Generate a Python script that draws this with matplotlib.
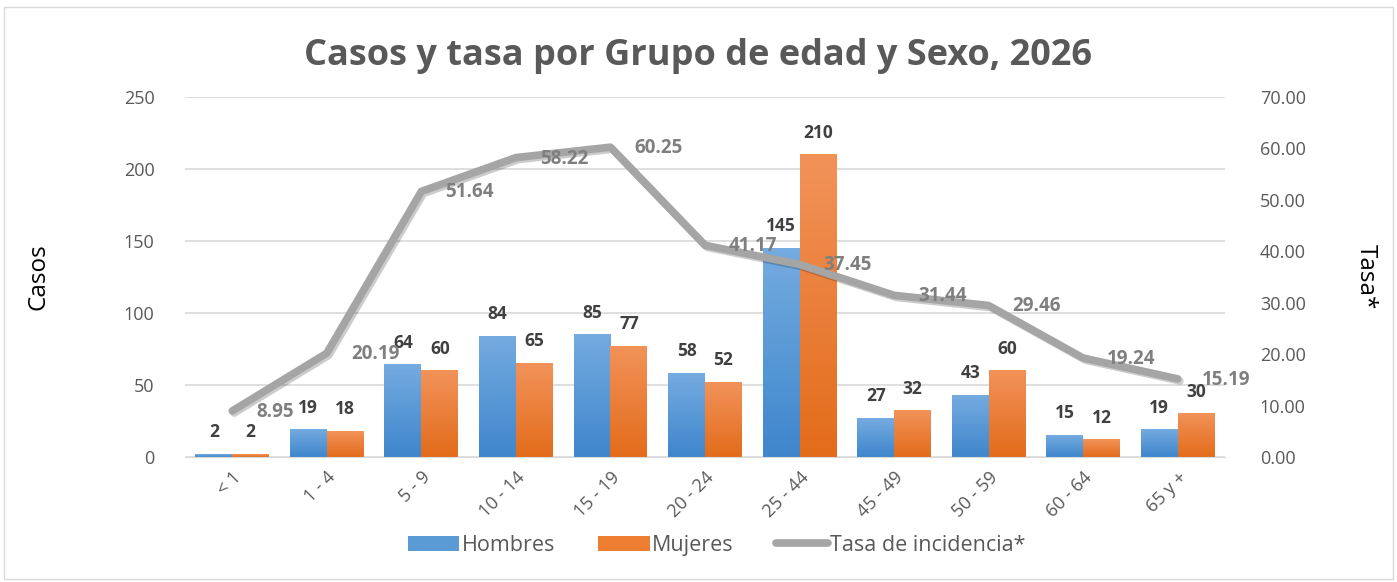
import numpy as np
import matplotlib
matplotlib.use("Agg")
import matplotlib.pyplot as plt
import matplotlib.patheffects as pe
from matplotlib.patches import Rectangle
from matplotlib.lines import Line2D

plt.rcParams['font.family'] = ['Open Sans', 'DejaVu Sans']

grupos = ['< 1', '1 - 4', '5 - 9', '10 - 14', '15 - 19', '20 - 24', '25 - 44',
          '45 - 49', '50 - 59', '60 - 64', '65 y +']
hombres = [2, 19, 64, 84, 85, 58, 145, 27, 43, 15, 19]
mujeres = [2, 18, 60, 65, 77, 52, 210, 32, 60, 12, 30]
tasa = [8.95, 20.19, 51.64, 58.22, 60.25, 41.17, 37.45, 31.44, 29.46, 19.24, 15.19]

TXT = '#595959'
BLUE_TOP, BLUE_BOT = '#74abe0', '#3f86cc'
ORNG_TOP, ORNG_BOT = '#f29259', '#e36c1b'
GRAY = '#a5a5a5'

fig = plt.figure(figsize=(13.97, 5.82), dpi=100)
fig.patches.append(Rectangle((0.003, 0.006), 0.994, 0.982, transform=fig.transFigure,
                             fill=False, edgecolor='#d9d9d9', linewidth=1))
ax = fig.add_axes([0.1324, 0.2148, 0.7445, 0.6185])
ax2 = ax.twinx()

x = np.arange(len(grupos))
w = 0.39


def grad_bars(axis, xs, vals, c_top, c_bot):
    cmap = matplotlib.colors.LinearSegmentedColormap.from_list('g', [c_bot, c_top])
    grad = np.linspace(0, 1, 64).reshape(-1, 1)
    for xi, v in zip(xs, vals):
        axis.imshow(grad, extent=(xi - w / 2, xi + w / 2, 0, v), origin='lower',
                    cmap=cmap, aspect='auto', zorder=2)


grad_bars(ax, x - w / 2, hombres, BLUE_TOP, BLUE_BOT)
grad_bars(ax, x + w / 2, mujeres, ORNG_TOP, ORNG_BOT)

for xs, vals in [(x - w / 2, hombres), (x + w / 2, mujeres)]:
    for xi, v in zip(xs, vals):
        ax.annotate(str(v), (xi, v), xytext=(0, 13), textcoords='offset pixels',
                    ha='center', va='bottom', fontsize=12.5, fontweight='bold',
                    color='#404040')

ax.set_xlim(-0.5, len(grupos) - 0.5)
ax.set_ylim(0, 250)
ax.set_yticks(range(0, 251, 50))
ax.grid(axis='y', color='#d9d9d9', linewidth=1.2)
ax.set_axisbelow(True)
for s in list(ax.spines.values()) + list(ax2.spines.values()):
    s.set_visible(False)
ax.spines['bottom'].set_visible(True)
ax.spines['bottom'].set_color('#d9d9d9')
ax.tick_params(axis='both', length=0, colors=TXT, labelsize=13)
ax.set_xticks(x)
ax.set_xticklabels(grupos, rotation=45, ha='right', rotation_mode='anchor')
ax.tick_params(axis='x', pad=8)
ax.tick_params(axis='y', pad=22)
ax.set_ylabel('Casos', fontsize=17.5, color='black', labelpad=53)

ax2.plot(x, tasa, color=GRAY, linewidth=5.5, solid_capstyle='round', zorder=3,
         path_effects=[pe.SimpleLineShadow(offset=(1.5, -1.5), alpha=0.2), pe.Normal()])
for xi, v in zip(x, tasa):
    ax2.annotate(f'{v:.2f}', (xi, v), xytext=(24, -1), textcoords='offset pixels',
                 ha='left', va='center', fontsize=13.5, fontweight='bold', color='#7f7f7f')
ax2.set_ylim(0, 70)
ax2.set_yticks(range(0, 71, 10))
ax2.set_yticklabels([f'{t:.2f}' for t in range(0, 71, 10)])
ax2.tick_params(axis='y', length=0, colors=TXT, labelsize=13, pad=25)
ax2.set_ylabel('Tasa*', fontsize=17.5, color='black', rotation=270, labelpad=52)

fig.suptitle('Casos y tasa por Grupo de edad y Sexo, 2026', x=0.5, y=0.904, va='center',
             fontsize=26, fontweight='bold', color=TXT)

handles = [Rectangle((0, 0), 1, 1, facecolor='#5b9bd5'),
           Rectangle((0, 0), 1, 1, facecolor='#ed7d31'),
           Line2D([0], [0], color=GRAY, linewidth=5.5, solid_capstyle='round')]
fig.legend(handles, ['Hombres', 'Mujeres', 'Tasa de incidencia*'], loc='center',
           bbox_to_anchor=(0.513, 0.063), ncol=3, frameon=False, fontsize=15.5,
           labelcolor=TXT, handlelength=2.4, handleheight=0.7, handletextpad=0.1,
           columnspacing=2.0)

fig.savefig('out.png', dpi=100)
